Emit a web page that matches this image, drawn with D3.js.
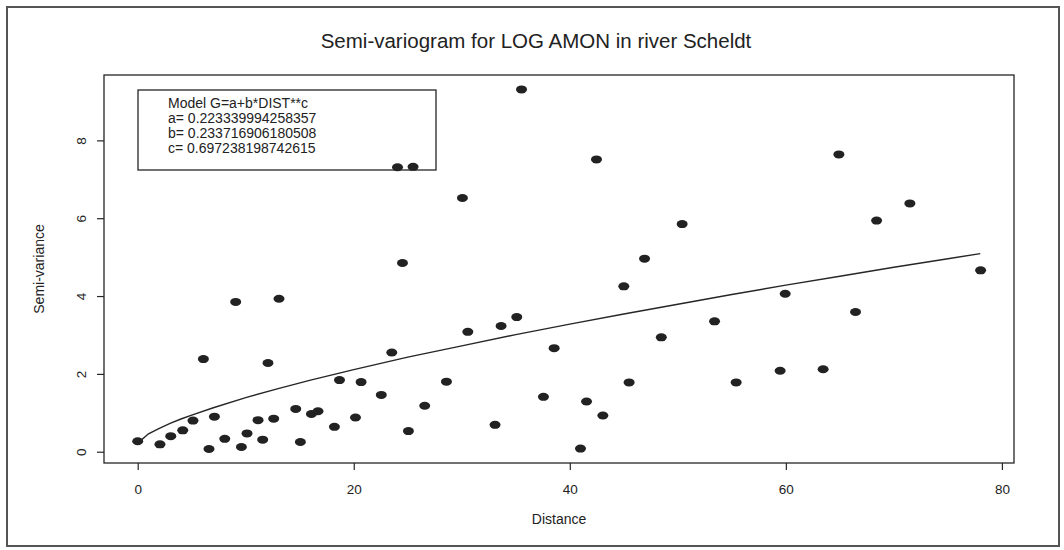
<!DOCTYPE html>
<html>
<head>
<meta charset="utf-8">
<script src="https://cdn.jsdelivr.net/npm/d3@7"></script>
<style>
  html, body { margin: 0; padding: 0; background: #fff; }
  svg { display: block; }
  text { font-family: "Liberation Sans", Arial, sans-serif; fill: #222; }
</style>
</head>
<body>
<svg id="chart" width="1064" height="550"></svg>
<script>
// ---- Data ----
const distance = [0, 2.06, 3.06, 4.17, 5.12, 6.08, 6.60, 7.10, 8.06, 9.07, 9.60, 10.12, 11.14, 11.57, 12.06, 12.59, 13.08, 14.63, 15.06, 16.08, 16.69, 18.21, 18.68, 20.16, 20.68, 22.55, 23.52, 24.05, 24.51, 25.06, 25.49, 26.57, 28.58, 30.06, 30.56, 33.08, 33.64, 35.09, 35.53, 37.56, 38.55, 40.99, 41.55, 42.47, 43.06, 45.0, 45.49, 46.92, 48.47, 50.40, 53.40, 55.40, 59.47, 59.94, 63.45, 64.91, 66.45, 68.40, 71.48, 78.03];
const semivariance = [0.27, 0.19, 0.40, 0.55, 0.80, 2.38, 0.07, 0.90, 0.33, 3.85, 0.12, 0.47, 0.81, 0.31, 2.28, 0.85, 3.93, 1.10, 0.25, 0.97, 1.04, 0.64, 1.84, 0.88, 1.79, 1.46, 2.55, 7.31, 4.85, 0.53, 7.32, 1.18, 1.80, 6.52, 3.08, 0.69, 3.23, 3.46, 9.31, 1.41, 2.66, 0.08, 1.29, 7.51, 0.93, 4.25, 1.78, 4.96, 2.94, 5.85, 3.35, 1.78, 2.08, 4.06, 2.12, 7.64, 3.59, 5.94, 6.38, 4.66];
// fitted model curve
const curveDistance = [0, 1, 2, 3, 4, 5, 7, 10, 13, 16, 20, 25, 30, 35, 40, 45, 50, 55, 60, 65, 70, 75, 78];
const curveValue = [0.22, 0.46, 0.60, 0.73, 0.84, 0.94, 1.13, 1.39, 1.62, 1.84, 2.11, 2.43, 2.72, 3.01, 3.28, 3.54, 3.79, 4.04, 4.28, 4.51, 4.74, 4.96, 5.09];
const xTicks = [0, 20, 40, 60, 80];
const yTicks = [0, 2, 4, 6, 8];
const titleText = "Semi-variogram for LOG AMON in river Scheldt";
const xLabel = "Distance";
const yLabel = "Semi-variance";
const legendLines = ["Model G=a+b*DIST**c", "a= 0.223339994258357", "b= 0.233716906180508", "c= 0.697238198742615"];

// ---- Layout ----
const svg = d3.select("#chart");
const box = { left: 104, right: 1014, top: 75, bottom: 463 };
const ink = "#262626";
const font = "Liberation Sans, Arial, sans-serif";

const x = d3.scaleLinear().domain([-3.12, 81.12]).range([box.left, box.right]);
const y = d3.scaleLinear().domain([-0.29, 9.68]).range([box.bottom, box.top]);

// outer frame
svg.append("rect").attr("x", 7).attr("y", 7).attr("width", 1052).attr("height", 539)
  .attr("fill", "none").attr("stroke", "#555").attr("stroke-width", 2);

// plot box
svg.append("rect").attr("x", box.left).attr("y", box.top)
  .attr("width", box.right - box.left).attr("height", box.bottom - box.top)
  .attr("fill", "none").attr("stroke", ink).attr("stroke-width", 1.3);

// x axis
const xAxis = d3.axisBottom(x).tickValues(xTicks).tickSize(7).tickPadding(14).tickFormat(d3.format("d"));
const gx = svg.append("g").attr("transform", `translate(0,${box.bottom})`).call(xAxis);
gx.select(".domain").remove();
gx.selectAll("line").attr("stroke", ink).attr("stroke-width", 1.2);
gx.selectAll("text").attr("font-size", 13.5).attr("fill", ink).style("font-family", font);

// y axis
const yAxis = d3.axisLeft(y).tickValues(yTicks).tickSize(7).tickPadding(8).tickFormat(d3.format("d"));
const gy = svg.append("g").attr("transform", `translate(${box.left},0)`).call(yAxis);
gy.select(".domain").remove();
gy.selectAll("line").attr("stroke", ink).attr("stroke-width", 1.2);
gy.selectAll(".tick text")
  .attr("font-size", 13.5).attr("fill", ink)
  .attr("x", null).attr("dy", null).attr("y", 0)
  .attr("text-anchor", "middle")
  .attr("transform", "translate(-18,0) rotate(-90)")
  .style("font-family", font);

// axis titles
svg.append("text").attr("x", (box.left + box.right) / 2).attr("y", 524)
  .attr("text-anchor", "middle").attr("font-size", 14).text(xLabel);
svg.append("text").attr("transform", `translate(44,${(box.top + box.bottom) / 2}) rotate(-90)`)
  .attr("text-anchor", "middle").attr("font-size", 14).text(yLabel);

// title
svg.append("text").attr("x", 536).attr("y", 48).attr("text-anchor", "middle")
  .attr("font-size", 20.5).text(titleText);

// legend box
svg.append("rect").attr("x", 138).attr("y", 90).attr("width", 298).attr("height", 80)
  .attr("fill", "none").attr("stroke", ink).attr("stroke-width", 1.3);
svg.append("g").selectAll("text").data(legendLines).join("text")
  .attr("x", 168).attr("y", (d, i) => 108 + i * 15)
  .attr("font-size", 14).text(d => d);

// model curve
const line = d3.line().x(d => x(d[0])).y(d => y(d[1]));
svg.append("path").datum(d3.zip(curveDistance, curveValue))
  .attr("d", line).attr("fill", "none").attr("stroke", ink).attr("stroke-width", 1.4);

// points
svg.append("g").selectAll("ellipse").data(d3.zip(distance, semivariance)).join("ellipse")
  .attr("cx", d => x(d[0])).attr("cy", d => y(d[1]))
  .attr("rx", 5.5).attr("ry", 4).attr("fill", "#222");
</script>
</body>
</html>
